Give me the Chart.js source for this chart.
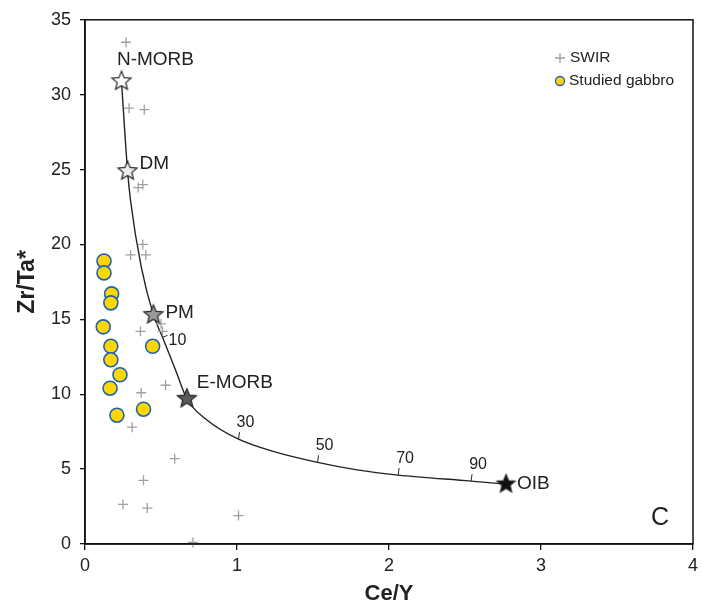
<!DOCTYPE html>
<html>
<head>
<meta charset="utf-8">
<script src="https://cdn.jsdelivr.net/npm/chart.js@4.4.0/dist/chart.umd.min.js"></script>
<style>
  html, body { margin: 0; background: #fff; }
  #wrap { width: 703px; height: 612px; }
</style>
</head>
<body>
<div id="wrap"><canvas id="grafik"></canvas></div>
<script>
// SWIR basalt data (Ce/Y vs Zr/Ta*)
const swirX = [0.27, 0.29, 0.39, 0.35, 0.38, 0.38, 0.30, 0.40, 0.365, 0.50, 0.51, 0.37, 0.53, 0.31, 0.59, 0.385, 0.25, 0.41, 1.01, 0.71];
const swirY = [33.5, 29.1, 29.0, 23.8, 24.0, 20.0, 19.3, 19.3, 14.2, 14.7, 14.2, 10.1, 10.6, 7.8, 5.7, 4.25, 2.65, 2.4, 1.9, 0.1];

// studied gabbro samples
const gabbroX = [0.125, 0.125, 0.175, 0.17, 0.12, 0.17, 0.17, 0.23, 0.165, 0.445, 0.21, 0.385];
const gabbroY = [18.9, 18.1, 16.7, 16.1, 14.5, 13.2, 12.3, 11.3, 10.4, 13.2, 8.6, 9.0];

// mantle end-members
const endNames = ['N-MORB', 'DM', 'PM', 'E-MORB', 'OIB'];
const endX = [0.24, 0.28, 0.45, 0.67, 2.77];
const endY = [30.9, 24.9, 15.3, 9.7, 4.0];

// mixing curve towards OIB
const curveX = [0.24, 0.28, 0.30, 0.37, 0.45, 0.51, 0.60, 0.67, 0.80, 1.01, 1.25, 1.53, 1.79, 2.06, 2.54, 2.77];
const curveY = [30.9, 24.9, 22.9, 18.5, 15.3, 13.8, 11.5, 9.7, 8.3, 7.0, 6.15, 5.45, 4.95, 4.6, 4.2, 4.0];

// % OIB marks on the curve
const mixPct = [10, 30, 50, 70, 90];
const mixX = [0.51, 1.01, 1.53, 2.06, 2.54];
const mixY = [13.8, 7.0, 5.45, 4.6, 4.2];

const xTicks = [0, 1, 2, 3, 4];
const yTicks = [0, 5, 10, 15, 20, 25, 30, 35];

const FONT = '"Liberation Sans", Arial, sans-serif';
const TXT = '#222';

// bikin gambar bintang untuk titik end-member
function starImg(fill, r) {
  const s = Math.ceil(r * 2 + 4);
  const cv = document.createElement('canvas');
  cv.width = s; cv.height = s;
  const g = cv.getContext('2d');
  g.beginPath();
  for (let i = 0; i < 10; i++) {
    const rad = i % 2 === 0 ? r : r * 0.45;
    const a = -Math.PI / 2 + i * Math.PI / 5;
    const px = s / 2 + rad * Math.cos(a);
    const py = s / 2 + rad * Math.sin(a);
    if (i === 0) g.moveTo(px, py); else g.lineTo(px, py);
  }
  g.closePath();
  g.fillStyle = fill;
  g.fill();
  g.lineWidth = 1.2;
  g.strokeStyle = '#222';
  g.stroke();
  return cv;
}

const starFills = ['#ffffff', '#eeeeee', '#9a9a9a', '#5a5a5a', '#111111'];
const starSizes = [10, 10, 10, 10, 9.5];
const starStyles = starFills.map((f, i) => starImg(f, starSizes[i]));

const toPts = (xs, ys) => xs.map((x, i) => ({ x: x, y: ys[i] }));

// label, bingkai, legenda dan huruf panel
const annot = {
  id: 'annot',
  afterDatasetsDraw(chart) {
    const ctx = chart.ctx;
    const xs = chart.scales.x, ys = chart.scales.y;
    const a = chart.chartArea;
    ctx.save();

    // bingkai plot
    ctx.strokeStyle = '#111';
    ctx.lineWidth = 1.5;
    ctx.strokeRect(a.left, a.top, a.right - a.left, a.bottom - a.top);

    // nama end-member
    const offs = [[34, -21, 'center'], [12, -7, 'left'], [12, -2, 'left'], [10, -16, 'left'], [11, 0, 'left']];
    ctx.fillStyle = TXT;
    ctx.font = '19px ' + FONT;
    ctx.textBaseline = 'middle';
    endNames.forEach((n, i) => {
      const px = xs.getPixelForValue(endX[i]);
      const py = ys.getPixelForValue(endY[i]);
      ctx.textAlign = offs[i][2];
      ctx.fillText(n, px + offs[i][0], py + offs[i][1]);
    });

    // tanda persen di kurva
    ctx.font = '16px ' + FONT;
    ctx.strokeStyle = '#222';
    ctx.lineWidth = 1;
    mixPct.forEach((p, i) => {
      const px = xs.getPixelForValue(mixX[i]);
      const py = ys.getPixelForValue(mixY[i]);
      ctx.beginPath();
      if (i === 0) {
        ctx.moveTo(px, py); ctx.lineTo(px + 5, py - 2);
        ctx.stroke();
        ctx.textAlign = 'left';
        ctx.fillText(String(p), px + 6, py + 3);
      } else {
        ctx.moveTo(px, py); ctx.lineTo(px + 1, py - 7);
        ctx.stroke();
        ctx.textAlign = 'center';
        ctx.fillText(String(p), px + 7, py - 17);
      }
    });

    // legenda
    const lx = 560, ly1 = 58, ly2 = 81;
    ctx.strokeStyle = '#a0a0a0';
    ctx.lineWidth = 1.3;
    ctx.beginPath();
    ctx.moveTo(lx - 5, ly1); ctx.lineTo(lx + 5, ly1);
    ctx.moveTo(lx, ly1 - 5); ctx.lineTo(lx, ly1 + 5);
    ctx.stroke();
    ctx.beginPath();
    ctx.arc(lx, ly2, 4.5, 0, Math.PI * 2);
    ctx.fillStyle = '#ffd700';
    ctx.fill();
    ctx.strokeStyle = '#1f5fb8';
    ctx.lineWidth = 1.3;
    ctx.stroke();
    ctx.fillStyle = TXT;
    ctx.font = '15.5px ' + FONT;
    ctx.textAlign = 'left';
    ctx.fillText('SWIR', lx + 10, ly1);
    ctx.fillText('Studied gabbro', lx + 9, ly2);

    // huruf panel
    ctx.font = '25px ' + FONT;
    ctx.textAlign = 'center';
    ctx.fillText('C', 660, 518);

    ctx.restore();
  }
};

const ctx = document.getElementById('grafik').getContext('2d');
new Chart(ctx, {
  type: 'scatter',
  data: {
    datasets: [
      {
        label: 'Mixing',
        type: 'line',
        data: toPts(curveX, curveY),
        borderColor: '#222',
        borderWidth: 1.4,
        pointRadius: 0,
        fill: false,
        cubicInterpolationMode: 'monotone',
        order: 3
      },
      {
        label: 'SWIR',
        data: toPts(swirX, swirY),
        pointStyle: 'cross',
        pointRadius: 5,
        borderColor: '#a0a0a0',
        borderWidth: 1.3,
        clip: false,
        order: 2
      },
      {
        label: 'Studied gabbro',
        data: toPts(gabbroX, gabbroY),
        pointStyle: 'circle',
        pointRadius: 7,
        backgroundColor: '#ffd700',
        borderColor: '#1f5fb8',
        borderWidth: 1.6,
        order: 1
      },
      {
        label: 'End-members',
        data: toPts(endX, endY),
        pointStyle: starStyles,
        order: 0
      }
    ]
  },
  options: {
    responsive: true,
    maintainAspectRatio: false,
    animation: false,
    layout: { autoPadding: false, padding: { top: 15, right: 0, left: 0, bottom: 0 } },
    plugins: {
      legend: { display: false },
      tooltip: { enabled: false }
    },
    scales: {
      x: {
        type: 'linear',
        min: 0, max: 4,
        afterBuildTicks: s => { s.ticks = xTicks.map(v => ({ value: v })); },
        afterFit: s => { s.height = 68; },
        grid: { drawOnChartArea: false, drawTicks: true, tickLength: 6, color: '#111', lineWidth: 1.3 },
        border: { color: '#111', width: 1.5 },
        ticks: { color: TXT, font: { family: FONT, size: 18 }, padding: 5 },
        title: { display: true, text: 'Ce/Y', color: TXT, font: { family: FONT, size: 22, weight: 'bold' }, padding: { top: 0, bottom: 5 } }
      },
      y: {
        type: 'linear',
        min: 0, max: 35,
        afterBuildTicks: s => { s.ticks = yTicks.map(v => ({ value: v })); },
        afterFit: s => { s.width = 85; },
        grid: { drawOnChartArea: false, drawTicks: true, tickLength: 5, color: '#111', lineWidth: 1.3 },
        border: { color: '#111', width: 1.5 },
        ticks: { color: TXT, font: { family: FONT, size: 18 }, padding: 9 },
        title: { display: true, text: 'Zr/Ta*', color: TXT, font: { family: FONT, size: 23, weight: 'bold' }, padding: { top: 14, bottom: 0 } }
      }
    }
  },
  plugins: [annot]
});
</script>
</body>
</html>
